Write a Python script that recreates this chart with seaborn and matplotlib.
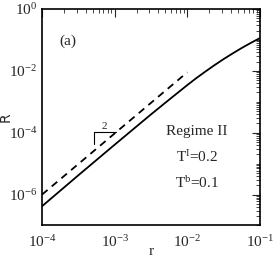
import numpy as np
import pandas as pd
import matplotlib
matplotlib.use("Agg")
from matplotlib import pyplot as plt
from matplotlib.ticker import LogLocator, NullFormatter
import seaborn as sns

# solid curve
r_solid = [1e-4, 3.16e-4, 1e-3, 3.16e-3, 5.62e-3, 1e-2, 1.33e-2, 1.78e-2, 2.37e-2,
           3.16e-2, 4.22e-2, 5.62e-2, 7.5e-2, 1e-1]
R_solid = [4.2e-7, 4.2e-6, 4.1e-5, 3.9e-4, 1.17e-3, 3.47e-3, 5.82e-3, 9.55e-3, 1.53e-2,
           2.40e-2, 3.67e-2, 5.50e-2, 8.04e-2, 1.148e-1]

# dashed guide line (slope 2)
r_dash = [1e-4, 1e-2]
R_dash = [1e-6, 9e-3]

# slope marker
tri_x = [5.2e-4, 5.2e-4, 1.05e-3]
tri_y = [4.4e-5, 1.02e-4, 1.02e-4]
slope_label = "2"
slope_pos = (7.1e-4, 1.55e-4)

y_major = [1e0, 1e-2, 1e-4, 1e-6]

sns.set_style("white")
plt.rcParams["font.family"] = ["Liberation Serif", "DejaVu Serif"]
plt.rcParams["mathtext.fontset"] = "custom"
plt.rcParams["mathtext.rm"] = "Liberation Serif"
plt.rcParams["mathtext.it"] = "Liberation Serif:italic"

fig = plt.figure(figsize=(2.73, 2.58), dpi=100)
ax = fig.add_axes([0.154, 0.126, 0.798, 0.839])

df = pd.DataFrame({"r": r_solid, "R": R_solid})
sns.lineplot(data=df, x="r", y="R", ax=ax, color="black", lw=1.3)
sns.lineplot(x=r_dash, y=R_dash, ax=ax, color="black", lw=1.3, dashes=False,
             linestyle=(0, (4, 3)))
ax.plot(tri_x, tri_y, color="black", lw=0.8)
ax.text(*slope_pos, slope_label, fontsize=8, ha="center", va="center")

ax.set_xscale("log")
ax.set_yscale("log")
ax.set_xlim(1e-4, 1e-1)
ax.set_ylim(1e-7, 1e0)
ax.set_yticks(y_major)
ax.yaxis.set_minor_locator(LogLocator(base=10, subs=np.arange(1, 10), numticks=50))
ax.xaxis.set_minor_locator(LogLocator(base=10, subs=np.arange(2, 10), numticks=50))
ax.yaxis.set_minor_formatter(NullFormatter())
ax.xaxis.set_minor_formatter(NullFormatter())

ax.tick_params(which="both", direction="in", top=True, right=True, labelsize=11)
ax.tick_params(which="major", length=6, width=0.8)
ax.tick_params(which="minor", length=3, width=0.6)
ax.tick_params(axis="x", pad=6)
for s in ax.spines.values():
    s.set_linewidth(1.2)
    s.set_color("black")

ax.set_xlabel("r", fontsize=11)
ax.set_ylabel("R", fontsize=10, family="DejaVu Sans")
ax.xaxis.set_label_coords(0.5, -0.088)
ax.yaxis.set_label_coords(-0.135, 0.5)

ax.text(0.12, 0.85, "(a)", transform=ax.transAxes, fontsize=11, ha="center", va="center")
ax.text(0.71, 0.436, "Regime II", transform=ax.transAxes, fontsize=11, ha="center", va="center")
ax.text(0.71, 0.316, r"T$^{\mathrm{I}}$=0.2", transform=ax.transAxes, fontsize=11, ha="center", va="center")
ax.text(0.71, 0.196, r"T$^{\mathrm{b}}$=0.1", transform=ax.transAxes, fontsize=11, ha="center", va="center")

fig.savefig("out.png", dpi=100)
